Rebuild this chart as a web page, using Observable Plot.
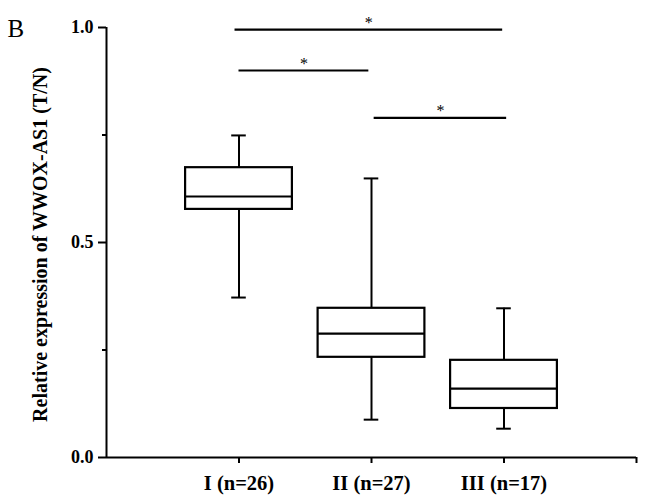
<!DOCTYPE html>
<html>
<head>
<meta charset="utf-8">
<script src="https://cdn.jsdelivr.net/npm/d3@7"></script>
<script src="https://cdn.jsdelivr.net/npm/@observablehq/plot@0.6"></script>
<style>
  html, body { margin: 0; padding: 0; background: #fff; }
  svg { display: block; }
</style>
</head>
<body>
<div id="chart"></div>
<script>
// Groups and box statistics
const groups = ["I (n=26)", "II (n=27)", "III (n=17)"];
const groupPos = [1, 2, 3];
const whiskerMin = [0.372, 0.088, 0.067];
const q1 = [0.577, 0.233, 0.114];
const median = [0.607, 0.288, 0.160];
const q3 = [0.674, 0.347, 0.226];
const whiskerMax = [0.749, 0.649, 0.347];

// Significance brackets
const sigStart = [0.97, 1.0, 2.02];
const sigEnd = [2.99, 1.98, 3.02];
const sigLevel = [0.995, 0.90, 0.79];
const sigLabel = ["*", "*", "*"];

// Axis ticks
const yMajorTicks = [0, 0.5, 1.0];
const yMinorTicks = [0.25, 0.75];
const xTicks = [1, 2, 3, 4];

const boxes = groups.map((g, i) => ({
  g, x: groupPos[i], lo: whiskerMin[i], q1: q1[i], med: median[i], q3: q3[i], hi: whiskerMax[i]
}));
const sigs = sigStart.map((s, i) => ({s, e: sigEnd[i], y: sigLevel[i], label: sigLabel[i], mid: (s + sigEnd[i]) / 2}));

const BW = 0.403;   // half box width (x units)
const CW = 0.055;   // half cap width
const serif = "'Liberation Serif', 'Times New Roman', 'DejaVu Serif', serif";

const chart = Plot.plot({
  width: 646,
  height: 499,
  marginLeft: 106,
  marginRight: 10,
  marginTop: 27,
  marginBottom: 42,
  style: {fontFamily: serif, background: "#fff", color: "#000"},
  x: {domain: [0, 4], axis: null},
  y: {domain: [0, 1], axis: null},
  marks: [
    // axes lines
    Plot.ruleX([0], {y1: 0, y2: 1, stroke: "#000", strokeWidth: 2}),
    Plot.ruleY([0], {x1: 0, x2: 4, stroke: "#000", strokeWidth: 2}),
    Plot.axisY(yMajorTicks, {tickSize: 8, tickPadding: 5, tickFormat: d3.format(".1f"),
      fontSize: 18, fontWeight: "bold", strokeWidth: 2, label: null, fill: "#000"}),
    Plot.axisY(yMinorTicks, {tickSize: 4, tickFormat: () => "", strokeWidth: 2, label: null}),
    Plot.axisX(xTicks, {tickSize: 6, tickPadding: 12, strokeWidth: 2,
      tickFormat: d => groups[groupPos.indexOf(d)] ?? "", fontSize: 20.5, fontWeight: "bold", label: null, fill: "#000"}),
    // whiskers
    Plot.ruleX(boxes, {x: "x", y1: "q3", y2: "hi", stroke: "#000", strokeWidth: 2}),
    Plot.ruleX(boxes, {x: "x", y1: "lo", y2: "q1", stroke: "#000", strokeWidth: 2}),
    Plot.ruleY(boxes, {y: "hi", x1: d => d.x - CW, x2: d => d.x + CW, stroke: "#000", strokeWidth: 2}),
    Plot.ruleY(boxes, {y: "lo", x1: d => d.x - CW, x2: d => d.x + CW, stroke: "#000", strokeWidth: 2}),
    // boxes
    Plot.rect(boxes, {x1: d => d.x - BW, x2: d => d.x + BW, y1: "q1", y2: "q3",
      fill: "none", stroke: "#000", strokeWidth: 2.2}),
    Plot.ruleY(boxes, {y: "med", x1: d => d.x - BW, x2: d => d.x + BW, stroke: "#000", strokeWidth: 2.2}),
    // significance brackets
    Plot.ruleY(sigs, {y: "y", x1: "s", x2: "e", stroke: "#000", strokeWidth: 2.2}),
    Plot.text(sigs, {x: "mid", y: "y", text: "label", dy: -7, fontSize: 16, fill: "#000"}),
    // y label
    Plot.text(["Relative expression of WWOX-AS1 (T/N)"], {frameAnchor: "left", textAnchor: "middle",
      dx: -66, dy: 2, rotate: -90, fontSize: 20, fontWeight: "bold", fill: "#000"}),
    // panel letter
    Plot.text(["B"], {frameAnchor: "top-left", textAnchor: "start", dx: -99, dy: -8,
      fontSize: 25, fill: "#000"})
  ]
});
document.getElementById("chart").appendChild(chart);
</script>
</body>
</html>
